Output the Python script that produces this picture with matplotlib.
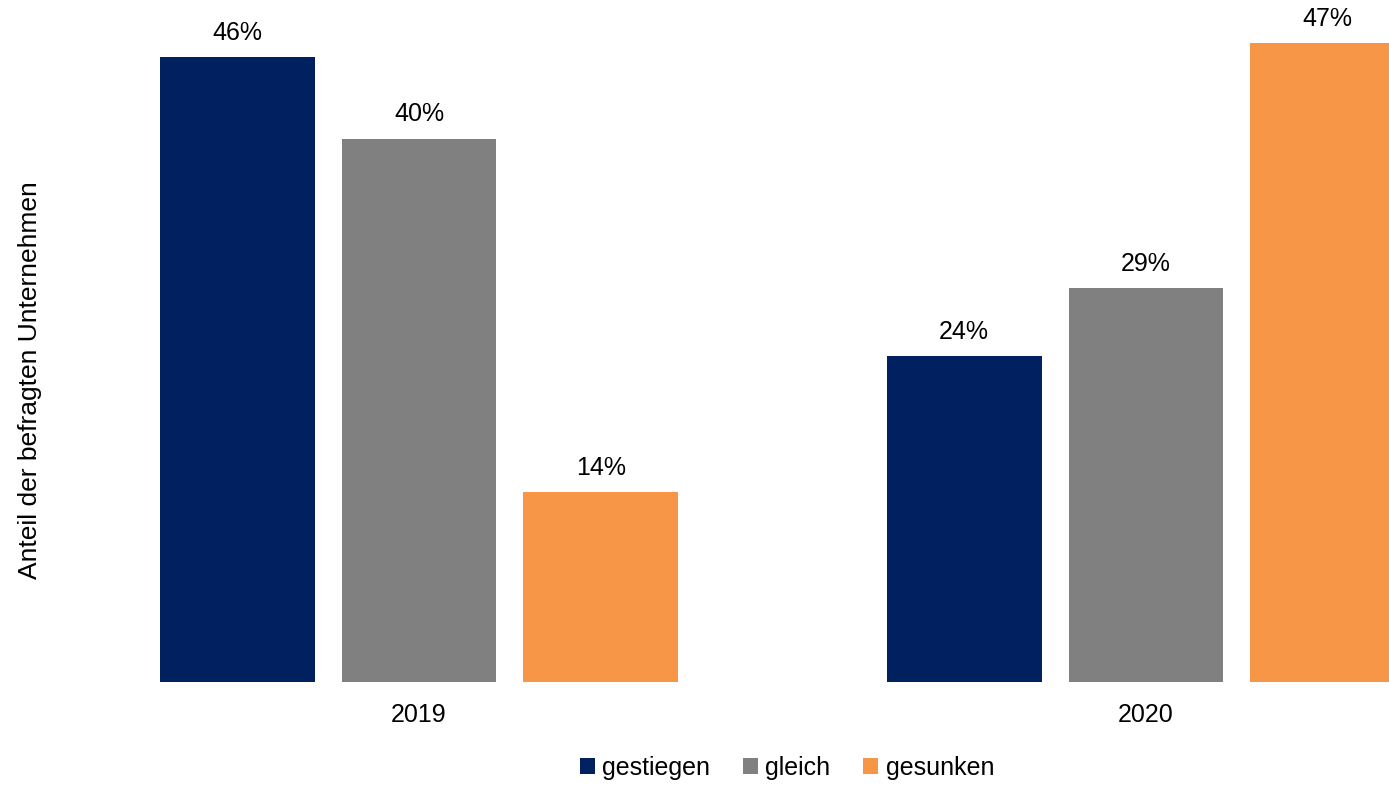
import numpy as np
import matplotlib.pyplot as plt

plt.rcParams["font.family"] = ["Liberation Sans", "DejaVu Sans"]
plt.rcParams["font.size"] = 18

years = ["2019", "2020"]
series = ["gestiegen", "gleich", "gesunken"]
values = {
    "gestiegen": [46, 24],
    "gleich": [40, 29],
    "gesunken": [14, 47],
}
colors = ["#002060", "#808080", "#F79646"]

fig = plt.figure(figsize=(13.89, 7.85), dpi=100)
ax = fig.add_axes([100 / 1389, 1 - 682 / 785, 1289 / 1389, 682 / 785])

x = np.arange(len(years))
pitch = 0.25
width = 0.213
handles = []
for i, (name, col) in enumerate(zip(series, colors)):
    pos = x + (i - 1) * pitch
    b = ax.bar(pos, values[name], width=width, color=col, label=name)
    handles.append(b)
    for px, v in zip(pos, values[name]):
        ax.text(px, v + 0.9, f"{v}%", ha="center", va="bottom", fontsize=18)

ax.set_xlim(-0.4388, 1.3343)
ax.set_ylim(0, 50.2)
ax.set_xticks(x)
ax.set_xticklabels(years)
ax.tick_params(axis="x", length=0, pad=15)
ax.set_yticks([])
for s in ax.spines.values():
    s.set_visible(False)

fig.text(30 / 1389, 1 - 380 / 785, "Anteil der befragten Unternehmen",
         rotation=90, ha="center", va="center", fontsize=19)

fig.legend(handles=handles, labels=series, loc="center",
           bbox_to_anchor=(787 / 1389, 1 - 768 / 785), ncol=3, frameon=False,
           handlelength=0.6, handleheight=0.6, handletextpad=0.3,
           columnspacing=1.3, fontsize=18)

fig.savefig("out.png", dpi=100)
